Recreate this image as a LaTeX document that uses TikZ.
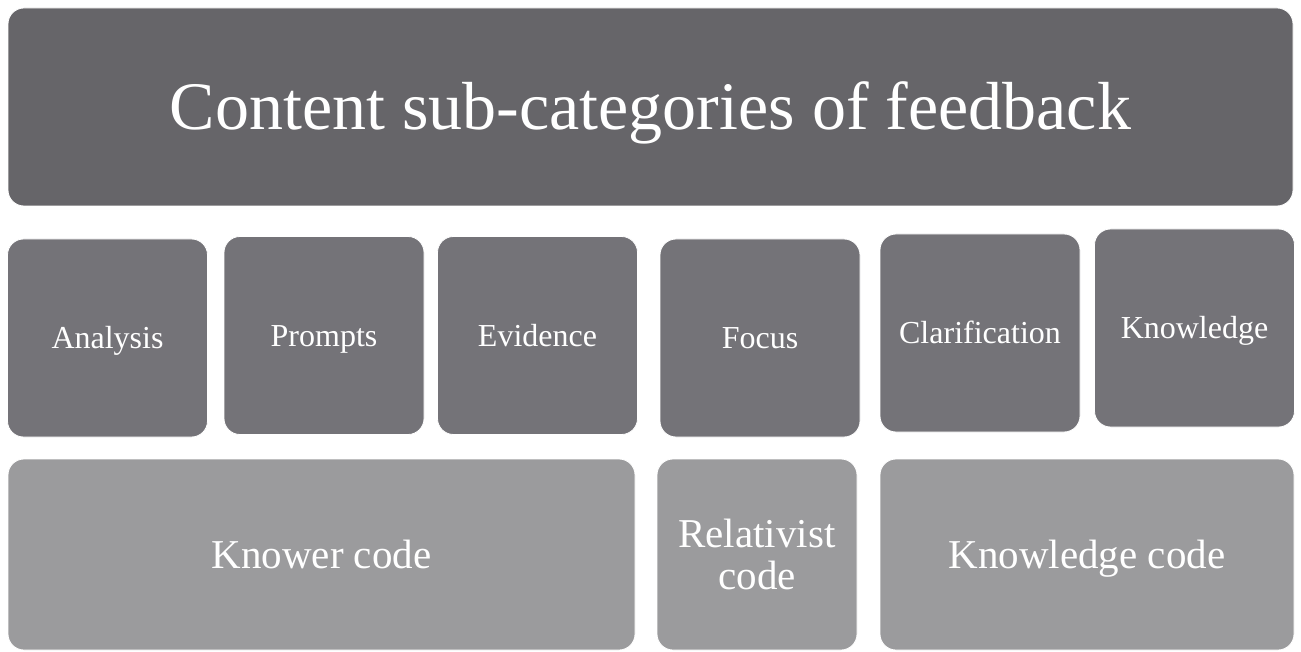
\documentclass[tikz,border=0pt]{standalone}
\usepackage{fontspec}
\setmainfont{Liberation Serif}
\definecolor{titlegray}{HTML}{666569}
\definecolor{subgray}{HTML}{747378}
\definecolor{codegray}{HTML}{9B9B9D}

\begin{document}
\begin{tikzpicture}[x=1pt,y=-1pt,
  box/.style={rectangle,rounded corners=16pt,draw=white,line width=0.8pt,text=white,inner sep=0pt},
  sub/.style={box,fill=subgray,minimum width=200pt,minimum height=198pt,font=\fontsize{32}{36}\selectfont,text height=21pt,text depth=0pt},
  code/.style={box,fill=codegray,minimum height=191pt,font=\fontsize{41}{42}\selectfont,align=center}]
  \useasboundingbox (0,0) rectangle (1301,652);
  \node[box,fill=titlegray,minimum width=1285pt,minimum height=198pt,font=\fontsize{68}{72}\selectfont,text height=45pt,text depth=0pt] (title) at (650.5,107) {Content sub-categories of feedback};
  \node[sub] (analysis) at (107.5,338) {Analysis};
  \node[sub] (prompts) at (324,335.5) {Prompts};
  \node[sub] (evidence) at (537.5,335.5) {Evidence};
  \node[sub] (focus) at (760,338) {Focus};
  \node[sub] (clarification) at (980,333) {Clarification};
  \node[sub] (knowledge) at (1194.5,328) {Knowledge};
  \node[code,minimum width=627pt,text height=27pt,text depth=-6pt] (knower) at (321.5,554.5) {Knower code};
  \node[code,minimum width=200pt] (relativist) at (757,554.5) {Relativist\\code};
  \node[code,minimum width=414pt,text height=27pt,text depth=-6pt] (knowledgecode) at (1087,554.5) {Knowledge code};
\end{tikzpicture}
\end{document}
